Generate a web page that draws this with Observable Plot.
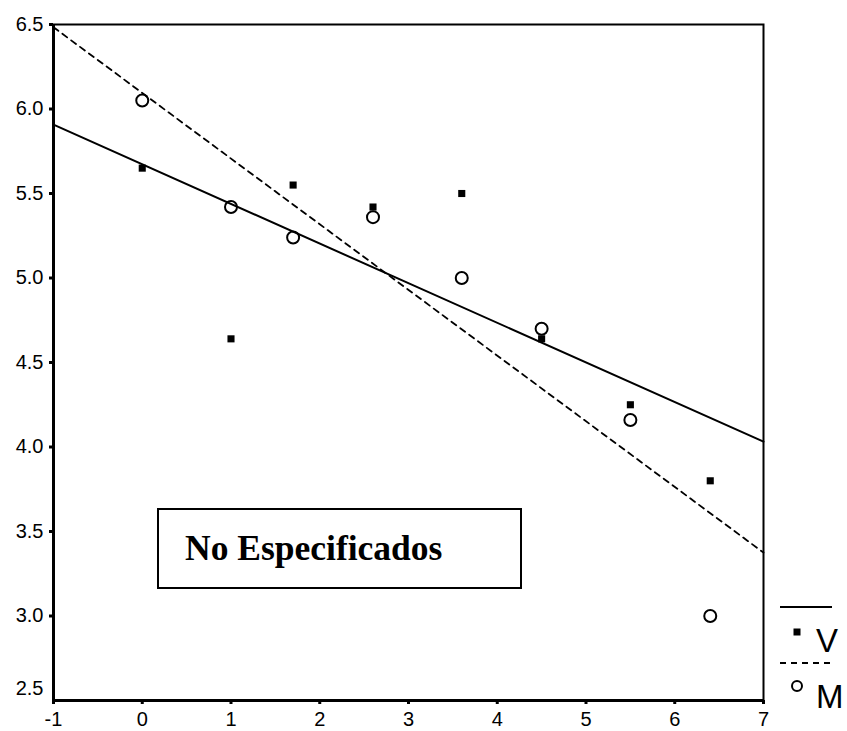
<!DOCTYPE html>
<html>
<head>
<meta charset="utf-8">
<script src="https://cdn.jsdelivr.net/npm/d3@7"></script>
<script src="https://cdn.jsdelivr.net/npm/@observablehq/plot@0.6"></script>
<style>
  html, body { margin: 0; padding: 0; background: #fff; }
  #wrap { position: relative; width: 847px; height: 731px; font-family: "Liberation Sans", Arial, sans-serif; }
  #note { position: absolute; left: 157px; top: 508px; width: 361px; height: 77px; border: 2.5px solid #000; background: #fff;
          font-family: "Liberation Serif", "Times New Roman", serif; font-weight: bold; font-size: 35.5px; color: #000; }
  #note span { position: absolute; left: 26px; top: 17px; }
  #legend { position: absolute; left: 776px; top: 596px; width: 71px; height: 120px; }
</style>
</head>
<body>
<div id="wrap"></div>
<script>
// ---- data ----
const xValues = [0, 1, 1.7, 2.6, 3.6, 4.5, 5.5, 6.4];
const vValues = [5.65, 4.64, 5.55, 5.42, 5.50, 4.64, 4.25, 3.80];
const mValues = [6.05, 5.42, 5.24, 5.36, 5.00, 4.70, 4.16, 3.00];
const xTicks = [-1, 0, 1, 2, 3, 4, 5, 6, 7];
const yTicks = [2.5, 3.0, 3.5, 4.0, 4.5, 5.0, 5.5, 6.0, 6.5];
const xDomain = [-1, 7];
const yDomain = [2.5, 6.5];
const seriesNames = ["V", "M"];
const noteText = "No Especificados";

// least-squares fit lines across the full x domain
function fit(xs, ys) {
  const mx = d3.mean(xs), my = d3.mean(ys);
  const sxy = d3.sum(xs, (x, i) => (x - mx) * (ys[i] - my));
  const sxx = d3.sum(xs, x => (x - mx) ** 2);
  const b = sxy / sxx, a = my - b * mx;
  return xDomain.map(x => ({x, y: a + b * x}));
}
const vPts = xValues.map((x, i) => ({x, y: vValues[i]}));
const mPts = xValues.map((x, i) => ({x, y: mValues[i]}));
const vFit = fit(xValues, vValues);
const mFit = fit(xValues, mValues);

const font = "Liberation Sans, Arial, sans-serif";
const chart = Plot.plot({
  width: 847,
  height: 731,
  marginLeft: 53,
  marginRight: 84,
  marginTop: 24,
  marginBottom: 31,
  style: {fontFamily: font, fontSize: "20px", color: "#000", background: "#fff"},
  x: {domain: xDomain},
  y: {domain: yDomain},
  marks: [
    Plot.frame({stroke: "#000", strokeWidth: 2}),
    Plot.axisX({ticks: xTicks, tickSize: 4, tickPadding: 7, strokeWidth: 3, label: null, tickFormat: d => String(d)}),
    Plot.axisY({ticks: yTicks.slice(1), tickSize: 4, tickPadding: 6, strokeWidth: 3, label: null, tickFormat: d3.format(".1f")}),
    Plot.axisY({ticks: [yTicks[0]], tickSize: 0, tickPadding: 10, dy: -12, label: null, tickFormat: d3.format(".1f")}),
    Plot.ruleX([xDomain[0]], {stroke: "#000", strokeWidth: 3}),
    Plot.ruleY([yDomain[0]], {stroke: "#000", strokeWidth: 3}),
    Plot.line(vFit, {x: "x", y: "y", stroke: "#000", strokeWidth: 2}),
    Plot.line(mFit, {x: "x", y: "y", stroke: "#000", strokeWidth: 1.8, strokeDasharray: "6,5"}),
    Plot.dot(vPts, {x: "x", y: "y", symbol: "square", r: 4, fill: "#000", stroke: "none"}),
    Plot.dot(mPts, {x: "x", y: "y", symbol: "circle", r: 6, fill: "none", stroke: "#000", strokeWidth: 2})
  ]
});
const wrap = document.getElementById("wrap");
wrap.appendChild(chart);

// annotation box
const note = document.createElement("div");
note.id = "note";
note.innerHTML = `<span>${noteText}</span>`;
wrap.appendChild(note);

// legend
const leg = document.createElement("div");
leg.id = "legend";
leg.innerHTML = `<svg width="71" height="120" style="overflow:visible">
  <line x1="4" x2="56" y1="11" y2="11" stroke="#000" stroke-width="2"/>
  <rect x="17.5" y="32.5" width="7" height="7" fill="#000"/>
  <text x="40" y="56" font-family="${font}" font-size="33px" fill="#000">${seriesNames[0]}</text>
  <line x1="4" x2="56" y1="67" y2="67" stroke="#000" stroke-width="1.8" stroke-dasharray="6,5"/>
  <circle cx="21" cy="90" r="5" fill="none" stroke="#000" stroke-width="2"/>
  <text x="40" y="112" font-family="${font}" font-size="33px" fill="#000">${seriesNames[1]}</text>
</svg>`;
wrap.appendChild(leg);
</script>
</body>
</html>
